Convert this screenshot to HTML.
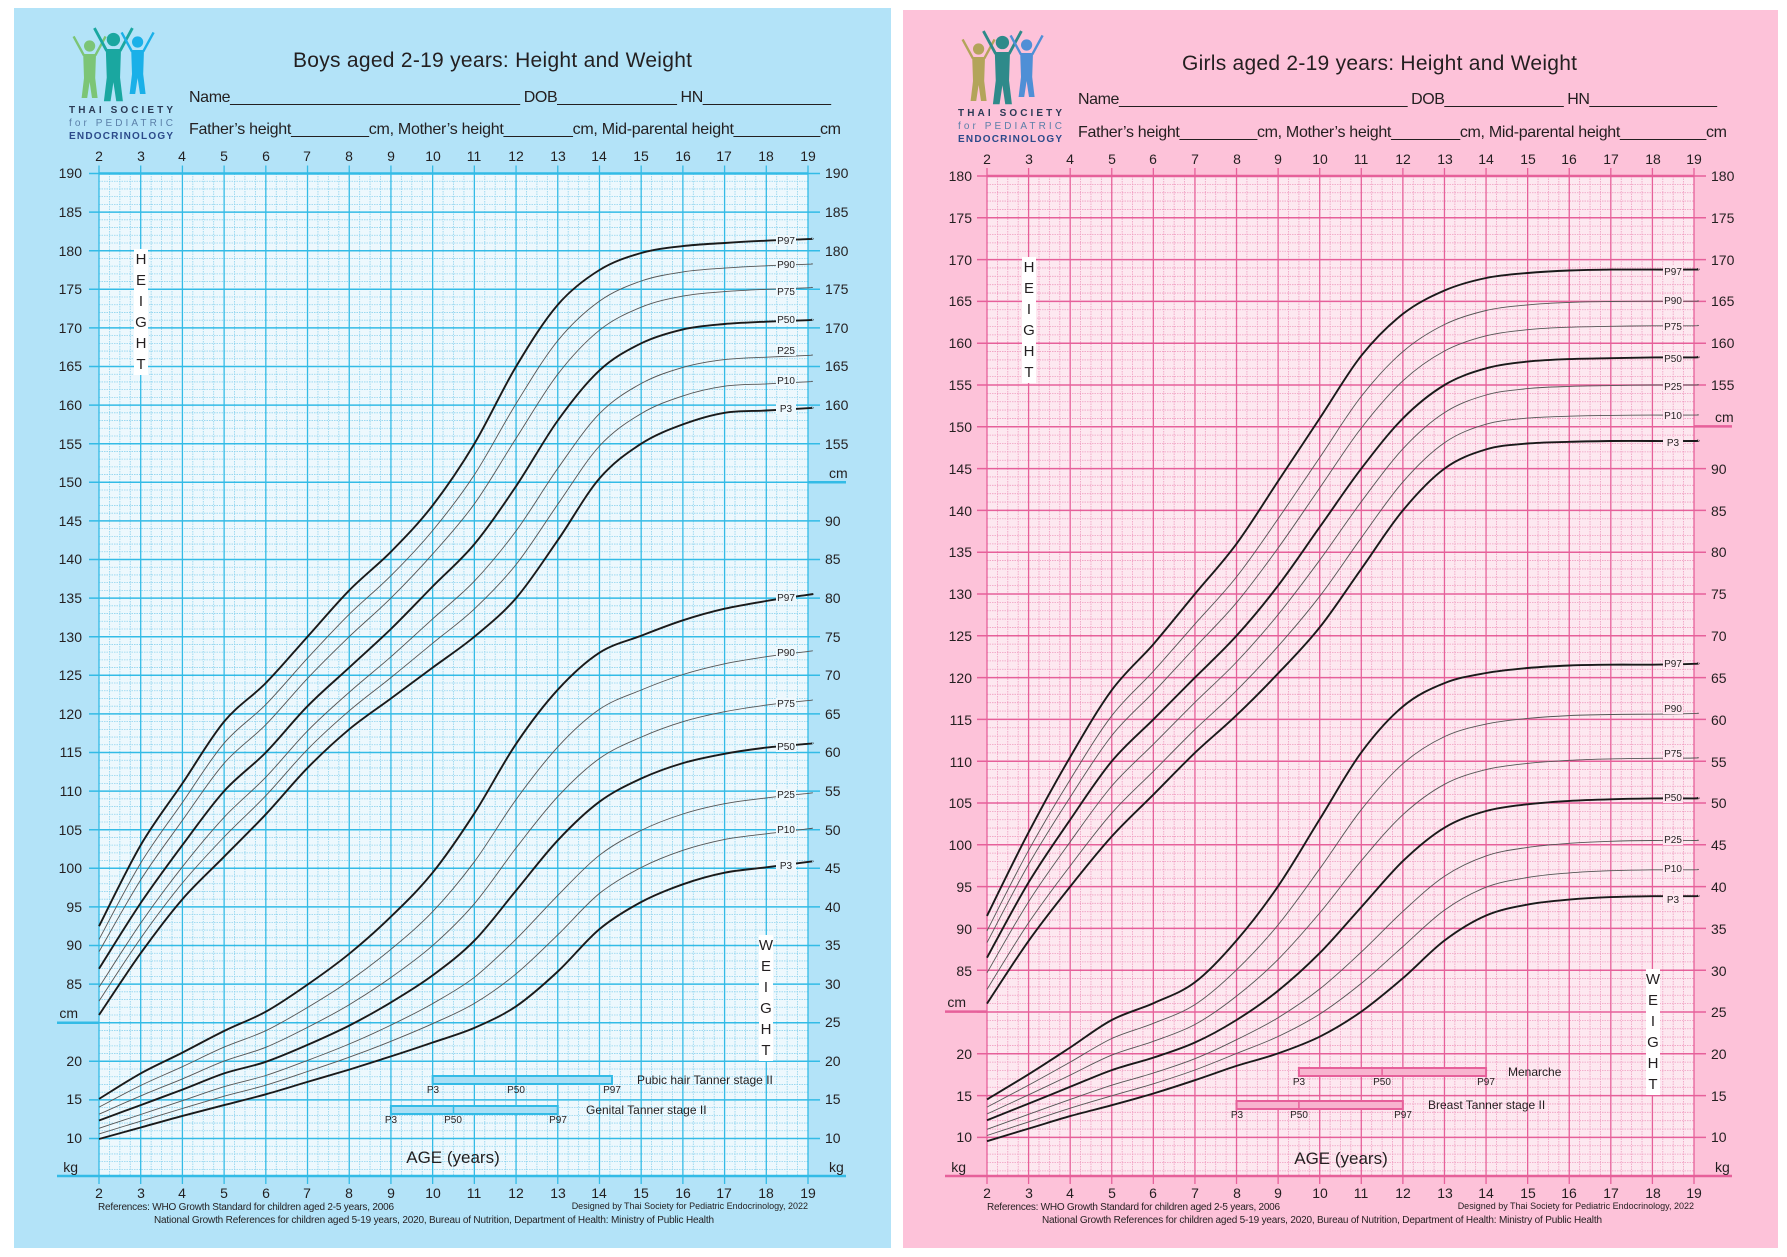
<!DOCTYPE html>
<html><head><meta charset="utf-8">
<style>
html,body{margin:0;padding:0;background:#fff;}
svg{display:block}
text{font-family:"Liberation Sans",sans-serif;fill:#231f20}
.t{font-size:16px}
.tk{font-size:14px}
.sm{font-size:10px}
.pl{font-size:10px}
.ttl{font-size:21px}
</style></head>
<body>
<svg id="s" width="1787" height="1257" xmlns="http://www.w3.org/2000/svg">
<rect x="0" y="0" width="1787" height="1257" fill="#ffffff"/>
<rect x="14" y="8" width="877" height="1240" fill="#b3e3f8"/>
<rect x="903" y="10" width="875" height="1238" fill="#fdc2d9"/>
<g id="gB"></g>
<g id="gG"></g>

<!-- BOYS text -->
<g>
<text class="ttl" x="293" y="67" textLength="399">Boys aged 2-19 years: Height and Weight</text>
<text class="t" x="189" y="102" textLength="642">Name__________________________________ DOB______________ HN_______________</text>
<text class="t" x="189" y="134" textLength="652">Father’s height_________cm, Mother’s height________cm, Mid-parental height__________cm</text>
<text x="69" y="113" font-size="10" font-weight="bold" fill="#2b3a55" textLength="104" style="fill:#2b3a55">THAI SOCIETY</text>
<text x="69" y="126" font-size="10" textLength="104" style="fill:#5a7fa8">for PEDIATRIC</text>
<text x="69" y="139" font-size="10" font-weight="bold" textLength="104" style="fill:#2b4a8a">ENDOCRINOLOGY</text>
<g text-anchor="middle" class="tk">
<text x="99" y="161">2</text><text x="141" y="161">3</text><text x="182" y="161">4</text><text x="224" y="161">5</text><text x="266" y="161">6</text><text x="307" y="161">7</text><text x="349" y="161">8</text><text x="391" y="161">9</text><text x="433" y="161">10</text><text x="474" y="161">11</text><text x="516" y="161">12</text><text x="558" y="161">13</text><text x="599" y="161">14</text><text x="641" y="161">15</text><text x="683" y="161">16</text><text x="724" y="161">17</text><text x="766" y="161">18</text><text x="808" y="161">19</text>
<text x="99" y="1198">2</text><text x="141" y="1198">3</text><text x="182" y="1198">4</text><text x="224" y="1198">5</text><text x="266" y="1198">6</text><text x="307" y="1198">7</text><text x="349" y="1198">8</text><text x="391" y="1198">9</text><text x="433" y="1198">10</text><text x="474" y="1198">11</text><text x="516" y="1198">12</text><text x="558" y="1198">13</text><text x="599" y="1198">14</text><text x="641" y="1198">15</text><text x="683" y="1198">16</text><text x="724" y="1198">17</text><text x="766" y="1198">18</text><text x="808" y="1198">19</text>
</g>
<g text-anchor="end" class="tk">
<text x="82" y="178">190</text><text x="82" y="217">185</text><text x="82" y="256">180</text><text x="82" y="294">175</text><text x="82" y="333">170</text><text x="82" y="371">165</text><text x="82" y="410">160</text><text x="82" y="449">155</text><text x="82" y="487">150</text><text x="82" y="526">145</text><text x="82" y="564">140</text><text x="82" y="603">135</text><text x="82" y="642">130</text><text x="82" y="680">125</text><text x="82" y="719">120</text><text x="82" y="757">115</text><text x="82" y="796">110</text><text x="82" y="835">105</text><text x="82" y="873">100</text><text x="82" y="912">95</text><text x="82" y="950">90</text><text x="82" y="989">85</text>
<text x="78" y="1018">cm</text>
<text x="82" y="1066">20</text><text x="82" y="1104">15</text><text x="82" y="1143">10</text>
<text x="78" y="1172">kg</text>
</g>
<g class="tk">
<text x="825" y="178">190</text><text x="825" y="217">185</text><text x="825" y="256">180</text><text x="825" y="294">175</text><text x="825" y="333">170</text><text x="825" y="371">165</text><text x="825" y="410">160</text><text x="825" y="449">155</text>
<text x="829" y="478">cm</text>
<text x="825" y="526">90</text><text x="825" y="564">85</text><text x="825" y="603">80</text><text x="825" y="642">75</text><text x="825" y="680">70</text><text x="825" y="719">65</text><text x="825" y="757">60</text><text x="825" y="796">55</text><text x="825" y="835">50</text><text x="825" y="873">45</text><text x="825" y="912">40</text><text x="825" y="950">35</text><text x="825" y="989">30</text><text x="825" y="1027">25</text><text x="825" y="1066">20</text><text x="825" y="1104">15</text><text x="825" y="1143">10</text>
<text x="829" y="1172">kg</text>
</g>
<text x="453" y="1163" font-size="17" text-anchor="middle">AGE (years)</text>
<text x="98" y="1210" class="sm" textLength="296">References:  WHO Growth Standard for children aged 2-5 years, 2006</text>
<text x="154" y="1223" class="sm" textLength="560">National Growth References for children aged 5-19 years, 2020, Bureau of Nutrition, Department of Health: Ministry of Public Health</text>
<text x="808" y="1209" font-size="9" text-anchor="end">Designed by Thai Society for Pediatric Endocrinology, 2022</text>
<text x="637" y="1084" font-size="12">Pubic hair Tanner stage II</text>
<text x="586" y="1114" font-size="12">Genital Tanner stage II</text>
<g class="pl" text-anchor="middle">
<text x="433" y="1093">P3</text><text x="516" y="1093">P50</text><text x="612" y="1093">P97</text>
<text x="391" y="1123">P3</text><text x="453" y="1123">P50</text><text x="558" y="1123">P97</text>
</g>
</g>

<!-- GIRLS text -->
<g>
<text class="ttl" x="1182" y="70" textLength="395">Girls aged 2-19 years: Height and Weight</text>
<text class="t" x="1078" y="104" textLength="639">Name__________________________________ DOB______________ HN_______________</text>
<text class="t" x="1078" y="137" textLength="649">Father’s height_________cm, Mother’s height________cm, Mid-parental height__________cm</text>
<text x="958" y="116" font-size="10" font-weight="bold" textLength="104" style="fill:#2b3a55">THAI SOCIETY</text>
<text x="958" y="129" font-size="10" textLength="104" style="fill:#5a7fa8">for PEDIATRIC</text>
<text x="958" y="142" font-size="10" font-weight="bold" textLength="104" style="fill:#2b4a8a">ENDOCRINOLOGY</text>
<g text-anchor="middle" class="tk">
<text x="987" y="164">2</text><text x="1029" y="164">3</text><text x="1070" y="164">4</text><text x="1112" y="164">5</text><text x="1153" y="164">6</text><text x="1195" y="164">7</text><text x="1237" y="164">8</text><text x="1278" y="164">9</text><text x="1320" y="164">10</text><text x="1361" y="164">11</text><text x="1403" y="164">12</text><text x="1445" y="164">13</text><text x="1486" y="164">14</text><text x="1528" y="164">15</text><text x="1569" y="164">16</text><text x="1611" y="164">17</text><text x="1653" y="164">18</text><text x="1694" y="164">19</text>
<text x="987" y="1198">2</text><text x="1029" y="1198">3</text><text x="1070" y="1198">4</text><text x="1112" y="1198">5</text><text x="1153" y="1198">6</text><text x="1195" y="1198">7</text><text x="1237" y="1198">8</text><text x="1278" y="1198">9</text><text x="1320" y="1198">10</text><text x="1361" y="1198">11</text><text x="1403" y="1198">12</text><text x="1445" y="1198">13</text><text x="1486" y="1198">14</text><text x="1528" y="1198">15</text><text x="1569" y="1198">16</text><text x="1611" y="1198">17</text><text x="1653" y="1198">18</text><text x="1694" y="1198">19</text>
</g>
<g text-anchor="end" class="tk">
<text x="972" y="181">180</text><text x="972" y="223">175</text><text x="972" y="265">170</text><text x="972" y="306">165</text><text x="972" y="348">160</text><text x="972" y="390">155</text><text x="972" y="432">150</text><text x="972" y="474">145</text><text x="972" y="516">140</text><text x="972" y="557">135</text><text x="972" y="599">130</text><text x="972" y="641">125</text><text x="972" y="683">120</text><text x="972" y="725">115</text><text x="972" y="767">110</text><text x="972" y="808">105</text><text x="972" y="850">100</text><text x="972" y="892">95</text><text x="972" y="934">90</text><text x="972" y="976">85</text>
<text x="966" y="1007">cm</text>
<text x="972" y="1059">20</text><text x="972" y="1101">15</text><text x="972" y="1142">10</text>
<text x="966" y="1172">kg</text>
</g>
<g class="tk">
<text x="1711" y="181">180</text><text x="1711" y="223">175</text><text x="1711" y="265">170</text><text x="1711" y="306">165</text><text x="1711" y="348">160</text><text x="1711" y="390">155</text>
<text x="1715" y="422">cm</text>
<text x="1711" y="474">90</text><text x="1711" y="516">85</text><text x="1711" y="557">80</text><text x="1711" y="599">75</text><text x="1711" y="641">70</text><text x="1711" y="683">65</text><text x="1711" y="725">60</text><text x="1711" y="767">55</text><text x="1711" y="808">50</text><text x="1711" y="850">45</text><text x="1711" y="892">40</text><text x="1711" y="934">35</text><text x="1711" y="976">30</text><text x="1711" y="1017">25</text><text x="1711" y="1059">20</text><text x="1711" y="1101">15</text><text x="1711" y="1142">10</text>
<text x="1715" y="1172">kg</text>
</g>
<text x="1341" y="1164" font-size="17" text-anchor="middle">AGE (years)</text>
<text x="987" y="1210" class="sm" textLength="293">References:  WHO Growth Standard for children aged 2-5 years, 2006</text>
<text x="1042" y="1223" class="sm" textLength="560">National Growth References for children aged 5-19 years, 2020, Bureau of Nutrition, Department of Health: Ministry of Public Health</text>
<text x="1694" y="1209" font-size="9" text-anchor="end">Designed by Thai Society for Pediatric Endocrinology, 2022</text>
<text x="1508" y="1076" font-size="12">Menarche</text>
<text x="1428" y="1109" font-size="12">Breast Tanner stage II</text>
<g class="pl" text-anchor="middle">
<text x="1299" y="1085">P3</text><text x="1382" y="1085">P50</text><text x="1486" y="1085">P97</text>
<text x="1237" y="1118">P3</text><text x="1299" y="1118">P50</text><text x="1403" y="1118">P97</text>
</g>
</g>
<g id="top"></g>
<g id="letters" font-size="15" text-anchor="middle">
<text x="141" y="264">H</text><text x="141" y="285">E</text><text x="141" y="306">I</text><text x="141" y="327">G</text><text x="141" y="348">H</text><text x="141" y="369">T</text>
<text x="766" y="950">W</text><text x="766" y="971">E</text><text x="766" y="992">I</text><text x="766" y="1013">G</text><text x="766" y="1034">H</text><text x="766" y="1055">T</text>
<text x="1029" y="272">H</text><text x="1029" y="293">E</text><text x="1029" y="314">I</text><text x="1029" y="335">G</text><text x="1029" y="356">H</text><text x="1029" y="377">T</text>
<text x="1653" y="984">W</text><text x="1653" y="1005">E</text><text x="1653" y="1026">I</text><text x="1653" y="1047">G</text><text x="1653" y="1068">H</text><text x="1653" y="1089">T</text>
</g>
<g id="plabels" class="pl" text-anchor="middle">
<text x="786" y="244">P97</text><text x="786" y="268">P90</text><text x="786" y="295">P75</text><text x="786" y="323">P50</text><text x="786" y="354">P25</text><text x="786" y="384">P10</text><text x="786" y="412">P3</text>
<text x="786" y="601">P97</text><text x="786" y="656">P90</text><text x="786" y="707">P75</text><text x="786" y="750">P50</text><text x="786" y="798">P25</text><text x="786" y="833">P10</text><text x="786" y="869">P3</text>
<text x="1673" y="275">P97</text><text x="1673" y="304">P90</text><text x="1673" y="330">P75</text><text x="1673" y="362">P50</text><text x="1673" y="390">P25</text><text x="1673" y="419">P10</text><text x="1673" y="446">P3</text>
<text x="1673" y="667">P97</text><text x="1673" y="712">P90</text><text x="1673" y="757">P75</text><text x="1673" y="801">P50</text><text x="1673" y="843">P25</text><text x="1673" y="872">P10</text><text x="1673" y="903">P3</text>
</g>
</svg>
<script>
var NS="http://www.w3.org/2000/svg";
function el(p,n,a){var e=document.createElementNS(NS,n);for(var k in a)e.setAttribute(k,a[k]);p.appendChild(e);return e;}
function cr(pts){var d="M"+pts[0][0].toFixed(1)+","+pts[0][1].toFixed(1);
 for(var i=0;i<pts.length-1;i++){var p0=pts[i-1]||pts[i],p1=pts[i],p2=pts[i+1],p3=pts[i+2]||p2;
 var c1=[p1[0]+(p2[0]-p0[0])/6,p1[1]+(p2[1]-p0[1])/6],c2=[p2[0]-(p3[0]-p1[0])/6,p2[1]-(p3[1]-p1[1])/6];
 d+="C"+c1[0].toFixed(1)+","+c1[1].toFixed(1)+" "+c2[0].toFixed(1)+","+c2[1].toFixed(1)+" "+p2[0].toFixed(1)+","+p2[1].toFixed(1);}return d;}
function chart(g,c){
 var X0=c.x0,X1=c.x1,Y0=c.y0,YB=1176,u=c.u,yr=(X1-X0)/17;
 el(g,"rect",{x:X0,y:Y0,width:X1-X0,height:YB-Y0,fill:c.bg});
 for(var i=0;i<=68;i++){var x=X0+i*yr/4; if(i%4) el(g,"line",{x1:x,y1:Y0,x2:x,y2:YB,stroke:c.mi,"stroke-width":0.8,"stroke-dasharray":"1.5,1"});}
 var n=Math.floor((YB-Y0)/u+0.01);
 for(var j=0;j<=n;j++){var y=Y0+j*u; if((j+c.off)%5) el(g,"line",{x1:X0,y1:y,x2:X1,y2:y,stroke:c.mi,"stroke-width":0.8,"stroke-dasharray":"1.5,1"});}
 for(var i=0;i<=17;i++){var x=X0+i*yr; el(g,"line",{x1:x,y1:Y0-8,x2:x,y2:YB+8,stroke:c.ma,"stroke-width":1.3});}
 for(var j=0;j<=n;j++){var y=Y0+j*u; if((j+c.off)%5==0) el(g,"line",{x1:X0-10,y1:y,x2:X1+12,y2:y,stroke:c.ma,"stroke-width":1.5});}
 el(g,"line",{x1:X0,y1:Y0,x2:X1,y2:Y0,stroke:c.ma,"stroke-width":2.5});
 el(g,"line",{x1:X0-42,y1:YB,x2:X1+38,y2:YB,stroke:c.ma,"stroke-width":2.5});
 el(g,"line",{x1:X0-42,y1:c.sepL,x2:X0,y2:c.sepL,stroke:c.ma,"stroke-width":2.5});
 el(g,"line",{x1:X1,y1:c.sepR,x2:X1+38,y2:c.sepR,stroke:c.ma,"stroke-width":2.5});
 c.bars.forEach(function(b){var x1=X0+(b[0]-2)*yr,x2=X0+(b[2]-2)*yr,xm=X0+(b[1]-2)*yr;
  el(g,"rect",{x:x1,y:b[3],width:x2-x1,height:b[4]-b[3],fill:c.barf,stroke:c.ma,"stroke-width":2});
  el(g,"line",{x1:xm,y1:b[3],x2:xm,y2:b[4],stroke:c.ma,"stroke-width":1.5});});
 c.sets.forEach(function(s){
  var A=s.p97,B=s.p50,C=s.p3;
  var lines=[[A,2],[B,2],[C,2]];
  s.r.forEach(function(r){var arr=[];for(var k=0;k<18;k++){arr.push(r>0?B[k]+r*(A[k]-B[k]):B[k]+r*(B[k]-C[k]));}lines.push([arr,1]);});
  lines.forEach(function(L){var pts=[];for(var k=0;k<18;k++)pts.push([X0+k*yr,s.f(L[0][k])]);
   pts.push([X1+4,s.f(L[0][17])-0.6]);
   el(g,"path",{d:cr(pts),fill:"none",stroke:L[1]==2?"#1a1a1a":"#555",
    "stroke-width":L[1]==2?1.9:0.9});});
 });
}
var gb=document.getElementById("gB"),gg=document.getElementById("gG");
var bu=7.72;
chart(gb,{x0:99,x1:808,y0:173.5,u:bu,bg:"#edf8fd",mi:"#8dd3ee",ma:"#33bbe6",off:0,sepL:173.5+110*bu,sepR:173.5+40*bu,barf:"#a9dff5",
 bars:[[10,12,14.3,1076,1084],[9,10.5,13,1106,1114]],
 sets:[
 {f:function(h){return 173.5+(190-h)*bu},r:[0.69,0.4,-0.4,-0.7],
  p97:[92.5,103,111,119,124,130,136,141,147,155,165,173,177.5,179.7,180.6,181,181.3,181.5],
  p50:[87,95.5,103,110,115,121,126,131,136.5,142,149.5,158,164.5,168,169.8,170.5,170.8,171],
  p3:[81,89,96,101.5,107,113,118,122,126,130,135,142.5,150.5,155,157.5,159,159.3,159.6]},
 {f:function(w){return 1137.5-(w-10)*bu},r:[0.62,0.29,-0.42,-0.72],
  p97:[15,18.3,21,23.8,26.3,29.8,33.8,38.6,44.3,52,61,68,72.8,75,77,78.5,79.5,80.3],
  p50:[12.2,14.2,16.2,18.3,19.8,22,24.5,27.5,31,35.5,42,48.5,53.5,56.5,58.5,59.7,60.5,61],
  p3:[9.8,11.3,12.8,14.2,15.6,17.2,18.8,20.5,22.3,24.2,27,31.5,37,40.5,42.8,44.3,45,45.7]}]});
var gu=8.36;
chart(gg,{x0:987,x1:1694,y0:176,u:gu,bg:"#fde8f0",mi:"#f09cc0",ma:"#e6609a",off:0,sepL:1137-15*gu,sepR:1137-85*gu,barf:"#f8b4cf",
 bars:[[9.5,11.5,14,1068,1076],[8,9.5,12,1101,1109]],
 sets:[
 {f:function(h){return 176+(180-h)*gu},r:[0.64,0.36,-0.33,-0.69],
  p97:[91.5,101.5,110.5,118.5,124,130,136,143.5,151,158.5,163.5,166.3,167.8,168.4,168.7,168.8,168.8,168.8],
  p50:[86.5,95.5,103,110,115,120,125,131,138,145,151,155,157,157.8,158.1,158.2,158.3,158.3],
  p3:[81,88.5,95,101,106,111,115.5,120.5,126,133,140,145,147.3,148,148.2,148.3,148.3,148.3]},
 {f:function(w){return 1137-(w-10)*gu},r:[0.63,0.3,-0.43,-0.73],
  p97:[14.5,17.5,20.7,24,26,28.5,33.5,40,48,56,61.5,64.3,65.5,66.1,66.4,66.5,66.5,66.6],
  p50:[12,14,16,18,19.5,21.3,24,27.5,32,37.5,43,47,49,49.8,50.2,50.4,50.5,50.5],
  p3:[9.5,11,12.5,13.8,15.2,16.8,18.5,20,22,25,29,33.5,36.5,37.8,38.4,38.7,38.8,38.8]}]});
var lt=document.getElementById("letters");
[...lt.querySelectorAll("text")].forEach(function(t){var x=+t.getAttribute("x"),y=+t.getAttribute("y");
 var r=document.createElementNS(NS,"rect");r.setAttribute("x",x-7);r.setAttribute("y",y-15);r.setAttribute("width",14);r.setAttribute("height",21);r.setAttribute("fill","#fff");lt.insertBefore(r,lt.firstChild);});
var pl=document.getElementById("plabels");
[...pl.querySelectorAll("text")].forEach(function(t){var x=+t.getAttribute("x"),y=+t.getAttribute("y");
 var r=document.createElementNS(NS,"rect");r.setAttribute("x",x-10);r.setAttribute("y",y-9);r.setAttribute("width",20);r.setAttribute("height",11);r.setAttribute("fill",x<900?"#edf8fd":"#fde8f0");pl.insertBefore(r,pl.firstChild);});
var tp=document.getElementById("top");
function logo(ox,oy,cols){
 [[0,8,cols[0],0.8],[22,0,cols[1],0.95],[48,4,cols[2],0.8]].forEach(function(f){
  var x=ox+f[0],y=oy+f[1],s=f[3];
  el(tp,"circle",{cx:x+12*s,cy:y+10*s,r:7*s,fill:f[2]});
  el(tp,"path",{d:"M"+(x+4*s)+","+(y+20*s)+" L"+(x+20*s)+","+(y+20*s)+" L"+(x+19*s)+","+(y+50*s)+" L"+(x+22*s)+","+(y+75*s)+" L"+(x+15*s)+","+(y+75*s)+" L"+(x+12*s)+","+(y+55*s)+" L"+(x+9*s)+","+(y+75*s)+" L"+(x+2*s)+","+(y+75*s)+" L"+(x+5*s)+","+(y+50*s)+"Z",fill:f[2]});
  el(tp,"path",{d:"M"+(x+5*s)+","+(y+22*s)+" L"+(x-8*s)+","+(y-2*s)+" M"+(x+19*s)+","+(y+22*s)+" L"+(x+32*s)+","+(y-2*s),stroke:f[2],"stroke-width":3*s,fill:"none"});
 });}
logo(80,30,["#7cc576","#1aa7a0","#1ab0e8"]);
logo(969,33,["#b3a45a","#2e8a8a","#4f8fd6"]);
</script>
</body></html>
